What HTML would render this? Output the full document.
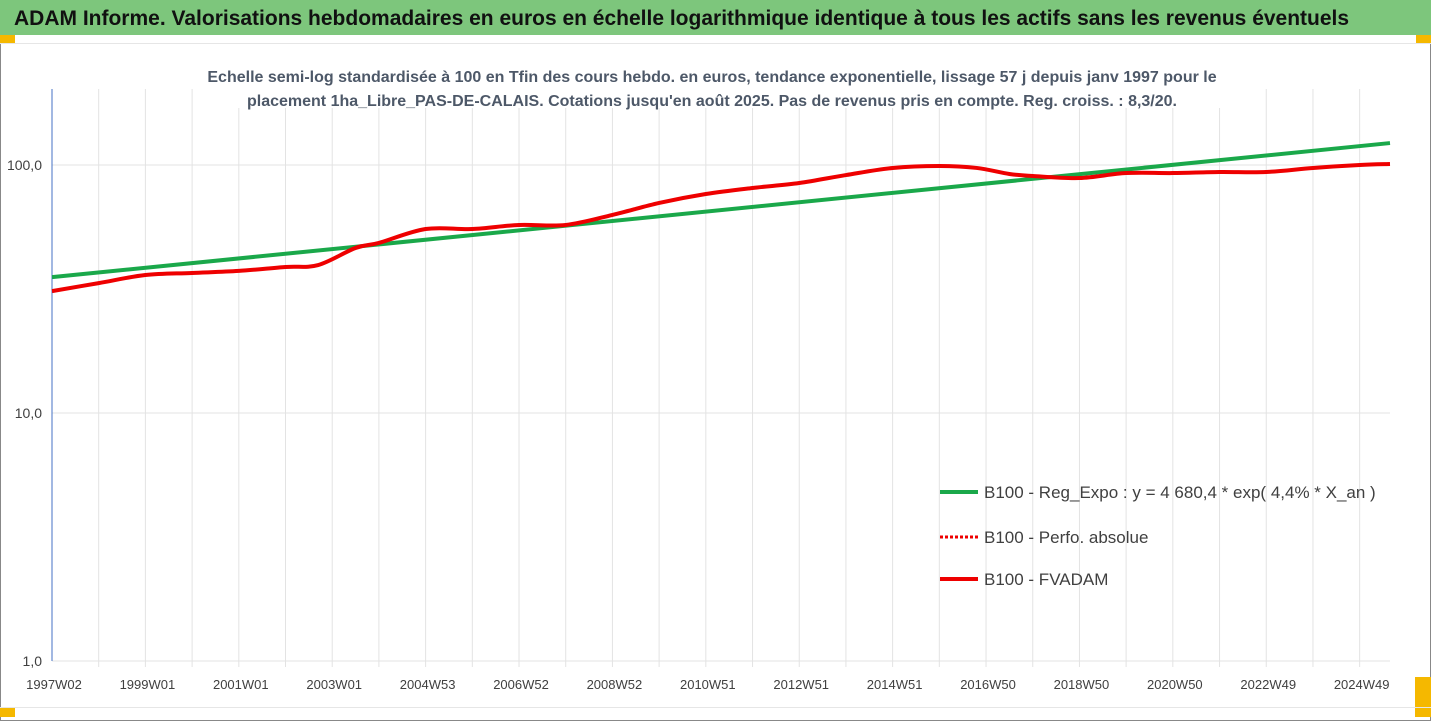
<!DOCTYPE html>
<html><head><meta charset="utf-8"><style>
body{margin:0;background:#fff;font-family:"Liberation Sans",sans-serif;}
#wrap{position:relative;width:1431px;height:721px;overflow:hidden;}
</style></head><body>
<div id="wrap">
<svg id="svg" width="1431" height="721">
<rect x="0.5" y="0.5" width="1430" height="720" fill="#fff" stroke="#888"/>
<rect x="0" y="0" width="1431" height="35" fill="#7dc67c"/>
<text x="14" y="25" font-size="21" font-weight="bold" fill="#111" style="font-family:'Liberation Sans Narrow','Liberation Sans',sans-serif">ADAM Informe. Valorisations hebdomadaires en euros en échelle logarithmique identique à tous les actifs sans les revenus éventuels</text>
<rect x="0" y="35" width="15" height="9" fill="#f5b800"/>
<rect x="1416" y="35" width="15" height="9" fill="#f5b800"/>
<rect x="1415" y="677" width="16" height="40" fill="#f5b800"/>
<rect x="0" y="707" width="15" height="10" fill="#f5b800"/>
<line x1="0" y1="43.5" x2="1431" y2="43.5" stroke="#e6e6e6"/>
<line x1="0" y1="707.5" x2="1431" y2="707.5" stroke="#e6e6e6"/>
<g id="grid"></g>
<rect x="200" y="86" width="1030" height="22" fill="#fff"/>
<text x="712" y="82" text-anchor="middle" font-size="16" font-weight="bold" fill="#4d5868" style="font-family:'Liberation Sans Narrow','Liberation Sans',sans-serif">Echelle semi-log standardisée à 100 en Tfin des cours hebdo. en euros, tendance exponentielle, lissage 57 j depuis janv 1997 pour le</text>
<text x="712" y="106" text-anchor="middle" font-size="16" font-weight="bold" fill="#4d5868" style="font-family:'Liberation Sans Narrow','Liberation Sans',sans-serif">placement 1ha_Libre_PAS-DE-CALAIS. Cotations jusqu'en août 2025. Pas de revenus pris en compte. Reg. croiss. : 8,3/20.</text>
<g id="axes"></g><g id="series"></g>
<g font-size="17" fill="#404040" style="font-family:'Liberation Sans Narrow','Liberation Sans',sans-serif">
<line x1="940" y1="492" x2="978" y2="492" stroke="#1aa84a" stroke-width="4"/>
<text x="984" y="498">B100 - Reg_Expo : y = 4 680,4 * exp( 4,4% *  X_an )</text>
<line x1="940" y1="537" x2="978" y2="537" stroke="#e00" stroke-width="3" stroke-dasharray="3,2"/>
<text x="984" y="543">B100 - Perfo. absolue</text>
<line x1="940" y1="579" x2="978" y2="579" stroke="#e00" stroke-width="4"/>
<text x="984" y="585">B100 - FVADAM</text>
</g>
</svg></div>
<script>
const xLabels=["1997W02","1999W01","2001W01","2003W01","2004W53","2006W52","2008W52","2010W51","2012W51","2014W51","2016W50","2018W50","2020W50","2022W49","2024W49"];
const yTicks=[1,10,100];
const yTickLabels=["1,0","10,0","100,0"];
const redYears=[1997,1998,1999,2000,2001,2002,2002.7,2003.5,2004,2005,2006,2007,2008,2009,2010,2011,2012,2013,2014,2015,2016,2016.8,2017.5,2018,2019,2020,2021,2022,2023,2024,2025,2025.65];
const redValues=[31.0,33.4,36.0,36.7,37.4,38.8,39.5,46.3,48.5,55.2,55.2,57.3,57.3,62.9,70.3,76.4,80.8,84.6,91.1,97.3,99.1,97.3,92.0,90.3,88.6,92.8,92.8,93.7,93.7,97.3,100,100.9];
const trendYears=[1997,2025.65];
const trendValues=[35.3,122.6];
const NS="http://www.w3.org/2000/svg";
const L=52,R=1390,T=89,B=661,X0=1997,X1=2025.65;
const xs=v=>L+(v-X0)/(X1-X0)*(R-L);
const ys=v=>B-Math.log10(v)*248;
function mk(tag,attrs,parent){const e=document.createElementNS(NS,tag);for(const k in attrs)e.setAttribute(k,attrs[k]);document.getElementById(parent).appendChild(e);return e;}
for(let i=1;i<=28;i++){const x=xs(X0+i);
const g=mk('line',{x1:x,x2:x,y1:T,y2:B+6,stroke:'#e3e3e3'},'grid');

}
yTicks.forEach((t,i)=>{const y=ys(t);
const g=mk('line',{x1:L,x2:R,y1:y,y2:y,stroke:'#e3e3e3'},'grid');


const tx=mk('text',{x:42,y:y+5,'text-anchor':'end','font-size':14,fill:'#404040'},'axes');
tx.textContent=yTickLabels[i];

});
const ax=mk('line',{x1:L,x2:L,y1:T,y2:B,stroke:'#4472c4'},'axes');


xLabels.forEach((s,i)=>{const tx=mk('text',{x:xs(X0)+i*2*(R-L)/(X1-X0)+2,y:689,'text-anchor':'middle','font-size':13,fill:'#404040'},'axes');
tx.textContent=s;

});
const tp=mk('path',{d:trendYears.map((v,i)=>(i?'L':'M')+xs(v)+','+ys(trendValues[i])).join(''),stroke:'#1aa84a','stroke-width':4,fill:'none'},'series');


function smooth(px){let d='M'+px[0][0]+','+px[0][1];
for(let i=0;i<px.length-1;i++){const p0=px[Math.max(0,i-1)],p1=px[i],p2=px[i+1],p3=px[Math.min(px.length-1,i+2)];
const c1x=p1[0]+(p2[0]-p0[0])/6,c1y=p1[1]+(p2[1]-p0[1])/6,c2x=p2[0]-(p3[0]-p1[0])/6,c2y=p2[1]-(p3[1]-p1[1])/6;
d+=' C'+c1x+','+c1y+' '+c2x+','+c2y+' '+p2[0]+','+p2[1];}
return d;}
const rpx=redYears.map((v,i)=>[xs(v),ys(redValues[i])]);
const rp=mk('path',{d:smooth(rpx),stroke:'#e00','stroke-width':4,fill:'none','stroke-linejoin':'round'},'series');


</script>
</body></html>
